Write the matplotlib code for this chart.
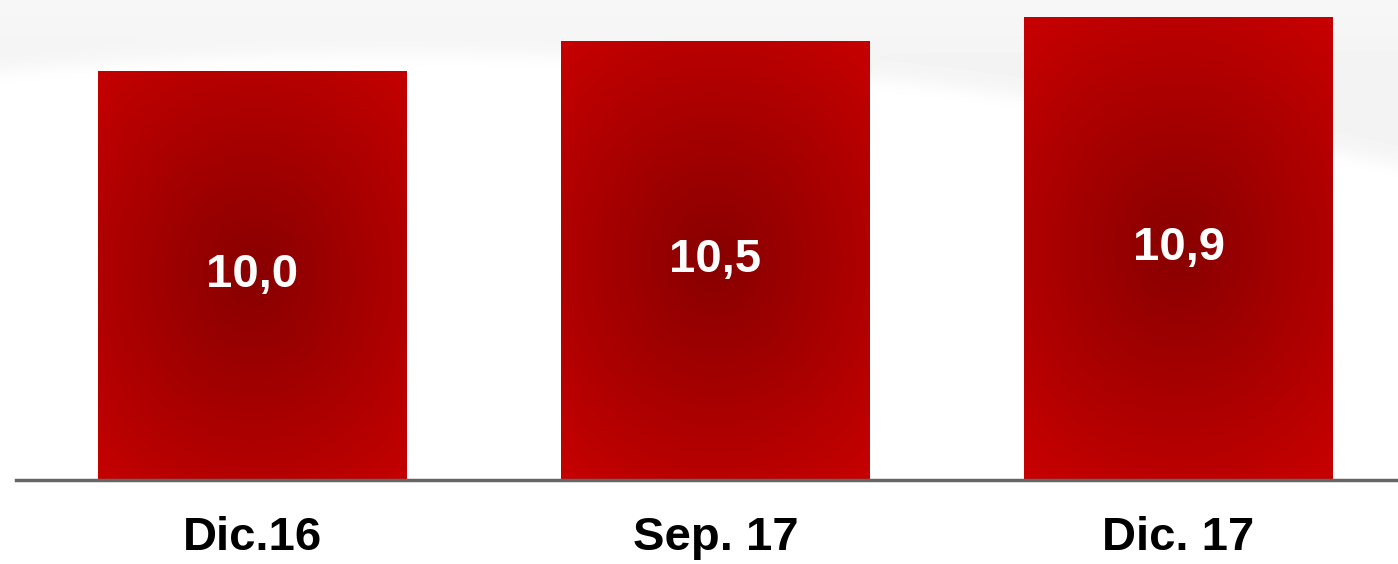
import matplotlib.pyplot as plt
import numpy as np
from matplotlib.colors import LinearSegmentedColormap
from matplotlib.patches import Rectangle

# Données
categories = ['Dic.16', 'Sep. 17', 'Dic. 17']
valeurs = [10.0, 10.5, 10.9]
etiquettes = ['10,0', '10,5', '10,9']

plt.rcParams['font.family'] = ['Liberation Sans', 'DejaVu Sans']

W, H = 1398, 564
fig = plt.figure(figsize=(W / 100, H / 100), dpi=100)

# Fond : vague grise très douce en haut
bg = fig.add_axes([0, 0, 1, 1], zorder=0)
bg.axis('off')
PX, PY = np.meshgrid(np.arange(W), np.arange(H))
courbe = 52 + 18 * ((PX - 400) / 400.0) ** 2
t = 1 / (1 + np.exp((PY - courbe) / 6.0))
gris = 1 - 0.045 * t * (0.7 + 0.3 * np.clip(PY / 60.0, 0, 1))
bg.imshow(gris, cmap='gray', vmin=0, vmax=1, extent=[0, W, H, 0], aspect='auto')
bg.set_xlim(0, W)
bg.set_ylim(H, 0)

# Axe principal
gauche_px = 16
ax = fig.add_axes([gauche_px / W, 1 - 480 / H, 1 - gauche_px / W, 480 / H], zorder=1)
ax.patch.set_alpha(0)
x = np.arange(len(categories))
largeur = 0.667
ymin = 3.2
ax.set_xlim(-(252.5 - gauche_px) / 463, (W - 252.5) / 463)
ax.set_ylim(ymin, 11.18)

cmap = LinearSegmentedColormap.from_list('rouge', ['#880000', '#9c0000', '#b00000', '#c40000'])

barres = ax.bar(x, [v - ymin for v in valeurs], bottom=ymin, width=largeur,
                color='none', edgecolor='none')

for b, v, lab in zip(barres, valeurs, etiquettes):
    x0, y0 = b.get_x(), b.get_y()
    w, h = b.get_width(), b.get_height()
    # gradient radial (en pixels)
    hw = w / 2 * 463
    hh = h / 2 * 60
    gx = np.linspace(-hw, hw, 200)
    gy = np.linspace(-hh, hh, 300)
    GX, GY = np.meshgrid(gx, gy)
    d = np.clip(np.sqrt(GX ** 2 + (GY * 0.85) ** 2) / 230, 0, 1)
    im = ax.imshow(d, cmap=cmap, vmin=0, vmax=1, extent=[x0, x0 + w, y0, y0 + h],
                   aspect='auto', origin='lower', zorder=2, interpolation='bilinear')
    rect = Rectangle((x0, y0), w, h, transform=ax.transData, facecolor='none')
    ax.add_patch(rect)
    im.set_clip_path(rect)
    ax.text(x0 + w / 2, y0 + h / 2, lab, ha='center', va='center', color='white',
            fontsize=34, fontweight='bold', zorder=3)

for xi, cat in zip(x, categories):
    ax.text(xi, -0.12, cat, transform=ax.get_xaxis_transform(), ha='center', va='center',
            fontsize=34, fontweight='bold', color='black')

for s in ['top', 'right', 'left']:
    ax.spines[s].set_visible(False)
ax.spines['bottom'].set_color('#666666')
ax.spines['bottom'].set_linewidth(2.5)
ax.spines['bottom'].set_zorder(4)
ax.set_xticks([])
ax.set_yticks([])

plt.savefig('out.png', dpi=100)
plt.close()
